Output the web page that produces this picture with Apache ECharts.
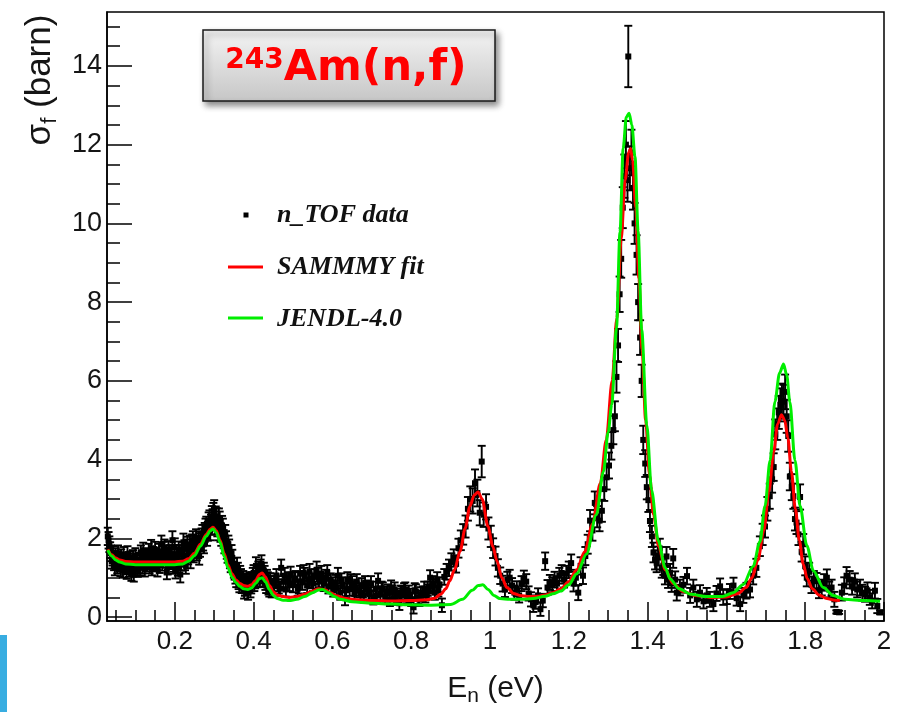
<!DOCTYPE html>
<html>
<head>
<meta charset="utf-8">
<script src="https://cdn.jsdelivr.net/npm/echarts@6/dist/echarts.min.js"></script>
<style>
html, body { margin: 0; padding: 0; background: #fff; }
#chart { width: 904px; height: 712px; }
</style>
</head>
<body>
<div id="chart"></div>
<script>
// 243Am(n,f) fission cross section: n_TOF data, SAMMY fit and JENDL-4.0 evaluation

// Measured points: neutron energy (eV), cross section (barn), uncertainty (barn)
const energy = [
  0.030,0.034,0.038,0.042,0.046,0.050,0.054,0.058,0.062,0.066,0.070,0.074,0.078,0.082,0.086,0.090,0.094,0.098,0.102,0.106,
  0.110,0.114,0.118,0.122,0.126,0.130,0.134,0.138,0.142,0.146,0.150,0.154,0.158,0.162,0.166,0.170,0.174,0.178,0.182,0.186,
  0.190,0.194,0.198,0.202,0.206,0.210,0.214,0.218,0.222,0.226,0.230,0.234,0.238,0.242,0.246,0.250,0.254,0.258,0.262,0.266,
  0.270,0.274,0.278,0.282,0.286,0.290,0.294,0.298,0.302,0.306,0.310,0.314,0.318,0.322,0.326,0.330,0.334,0.338,0.342,0.346,
  0.350,0.354,0.358,0.362,0.366,0.370,0.374,0.378,0.382,0.386,0.390,0.394,0.398,0.402,0.406,0.410,0.414,0.418,0.422,0.426,
  0.430,0.434,0.438,0.442,0.446,0.452,0.458,0.464,0.470,0.476,0.482,0.488,0.494,0.500,0.506,0.512,0.518,0.524,0.530,0.536,
  0.542,0.548,0.554,0.560,0.566,0.572,0.578,0.584,0.590,0.596,0.602,0.608,0.614,0.620,0.626,0.632,0.638,0.644,0.650,0.656,
  0.662,0.668,0.674,0.680,0.686,0.692,0.698,0.704,0.710,0.716,0.722,0.728,0.734,0.740,0.746,0.752,0.758,0.764,0.770,0.776,
  0.782,0.788,0.794,0.800,0.806,0.812,0.818,0.824,0.830,0.836,0.842,0.848,0.854,0.860,0.866,0.872,0.878,0.884,0.890,0.896,
  0.902,0.908,0.914,0.920,0.926,0.932,0.938,0.944,0.950,0.956,0.962,0.968,0.974,0.979,0.984,0.990,0.996,1.002,1.008,1.014,
  1.020,1.026,1.032,1.038,1.044,1.050,1.056,1.062,1.068,1.074,1.080,1.086,1.092,1.098,1.104,1.110,1.116,1.122,1.128,1.134,
  1.140,1.146,1.152,1.158,1.164,1.170,1.176,1.182,1.188,1.194,1.200,1.206,1.212,1.218,1.224,1.230,1.236,1.242,1.248,1.254,
  1.260,1.266,1.272,1.278,1.284,1.290,1.296,1.302,1.308,1.313,1.317,1.321,1.325,1.329,1.333,1.337,1.341,1.345,1.349,1.351,
  1.355,1.359,1.363,1.367,1.372,1.376,1.381,1.385,1.389,1.394,1.398,1.402,1.406,1.411,1.415,1.419,1.423,1.427,1.431,1.436,
  1.440,1.444,1.448,1.452,1.457,1.461,1.465,1.470,1.474,1.482,1.491,1.500,1.508,1.516,1.525,1.533,1.542,1.550,1.558,1.567,
  1.575,1.584,1.592,1.601,1.609,1.618,1.626,1.635,1.643,1.651,1.660,1.668,1.676,1.685,1.692,1.698,1.704,1.710,1.716,1.720,
  1.724,1.729,1.733,1.737,1.741,1.745,1.749,1.753,1.757,1.761,1.766,1.770,1.774,1.778,1.783,1.787,1.791,1.795,1.800,1.804,
  1.810,1.816,1.822,1.829,1.835,1.842,1.848,1.855,1.861,1.867,1.874,1.879,1.886,1.893,1.899,1.905,1.913,1.919,1.926,1.932,
  1.939,1.945,1.952,1.958,1.964,1.970,1.977,1.983,1.990,
  // interleaved bins of the dense low-energy range
  0.032,0.036,0.040,0.044,0.048,0.052,0.056,0.060,0.064,0.068,0.072,0.076,0.080,0.084,0.088,0.092,0.096,0.100,0.104,0.108,
  0.112,0.116,0.120,0.124,0.128,0.132,0.136,0.140,0.144,0.148,0.152,0.156,0.160,0.164,0.168,0.172,0.176,0.180,0.184,0.188,
  0.192,0.196,0.200,0.204,0.208,0.212,0.216,0.220,0.224,0.228,0.232,0.236,0.240,0.244,0.248,0.252,0.256,0.260,0.264,0.268,
  0.272,0.276,0.280,0.284,0.288,0.292,0.296,0.300,0.304,0.308,0.312,0.316,0.320,0.324,0.328,0.332,0.336,0.340,0.344,0.348,
  0.352,0.356,0.360,0.364,0.368,0.372,0.376,0.380,0.384,0.388,0.392,0.396,0.400,0.404,0.408,0.412,0.416,0.420,0.424,0.428,
  0.432,0.436,0.440,0.444,0.455,0.467,0.479,0.491,0.503,0.515,0.527,0.539,0.551,0.563,0.575,0.587,0.599,0.611,0.623,0.635,
  0.647,0.659,0.671,0.683,0.695,0.713,0.725,0.737,0.749,0.761,0.773,0.785,0.797,0.809,0.821,0.833,0.845,0.857,0.869
];
const sigma = [
  2.05,1.85,1.62,1.50,1.38,1.55,1.30,1.45,1.22,1.40,1.58,1.28,1.15,1.42,1.33,1.10,1.50,1.25,1.38,1.20,
  1.45,1.62,1.30,1.48,1.55,1.35,1.65,1.42,1.25,1.58,1.70,1.40,1.52,1.32,1.85,1.60,1.75,1.45,1.28,1.62,
  1.50,1.95,1.35,1.18,1.55,1.70,1.08,1.60,1.90,1.40,1.75,1.55,1.85,1.65,1.95,1.72,2.00,1.80,1.55,1.90,
  2.10,1.85,2.25,2.05,2.40,2.20,2.55,2.62,2.35,2.50,2.20,2.42,2.05,2.25,1.85,1.95,1.60,1.75,1.35,1.50,
  1.20,1.05,1.30,0.90,1.10,0.80,0.98,0.72,0.88,0.62,0.95,0.78,1.05,0.85,1.30,0.95,1.12,1.25,1.05,1.18,
  0.88,1.00,0.75,0.92,0.68,0.85,1.02,0.78,1.25,0.90,0.70,0.95,1.08,0.82,0.98,0.72,1.10,0.88,1.05,0.80,
  1.15,0.92,1.02,1.20,0.95,1.10,0.85,1.00,0.78,0.92,0.70,0.88,1.05,0.62,0.82,0.48,0.95,0.72,0.85,0.58,
  0.90,0.68,0.80,0.55,0.75,0.62,0.85,0.50,0.72,0.92,0.60,0.70,0.52,0.65,0.45,0.62,0.70,0.55,0.35,0.60,
  0.68,0.52,0.62,0.45,0.25,0.65,0.50,0.58,0.60,0.55,0.72,1.00,0.78,0.62,0.95,0.82,0.30,1.02,1.15,1.25,
  1.40,1.50,1.35,1.75,1.95,2.10,2.30,2.75,3.00,2.95,3.40,3.15,2.65,3.95,2.60,2.80,2.25,2.05,1.75,1.55,
  1.25,1.05,0.85,0.70,0.95,1.00,0.80,0.62,0.72,0.55,0.85,0.98,0.90,0.60,0.45,0.30,0.38,0.55,0.20,0.42,
  1.42,0.75,0.88,0.82,0.95,0.85,1.05,1.12,0.95,1.10,1.20,1.37,0.85,1.00,0.62,1.30,1.05,1.55,1.85,2.45,
  2.20,2.90,2.55,2.45,2.70,3.25,3.55,3.85,4.35,4.75,5.10,6.10,6.90,8.20,9.10,10.4,11.2,12.0,11.1,14.24,
  11.4,11.8,10.9,10.0,9.20,8.00,7.10,6.00,4.50,3.90,3.30,2.97,2.44,2.05,1.64,1.45,1.38,1.55,1.74,1.23,
  1.30,1.05,1.54,0.95,1.13,0.85,1.49,0.95,0.62,0.75,0.82,1.04,0.55,0.75,0.45,0.62,0.40,0.55,0.45,0.33,
  0.60,0.78,0.50,0.52,0.65,0.80,0.48,0.33,0.55,0.67,0.70,1.05,1.25,1.80,2.10,2.30,2.75,3.07,3.50,3.81,
  4.64,4.90,5.20,5.39,5.50,5.47,5.72,5.10,4.60,3.57,3.30,3.07,2.49,2.40,2.10,3.05,1.66,1.85,1.30,1.00,
  1.15,0.82,0.95,0.91,0.68,0.75,0.88,1.00,0.70,0.75,0.45,0.13,0.12,0.62,0.80,1.05,0.95,0.78,0.90,0.70,
  0.75,0.62,0.58,0.68,0.50,0.41,0.67,0.28,0.12,
  1.95,1.70,1.42,1.60,1.25,1.48,1.62,1.35,1.52,1.18,1.45,1.35,1.60,1.20,1.48,1.38,1.08,1.55,1.42,1.30,
  1.25,1.50,1.68,1.22,1.42,1.52,1.30,1.75,1.45,1.35,1.55,1.22,1.65,1.48,1.38,1.70,1.55,1.15,1.72,1.42,
  1.60,1.30,1.78,1.45,1.25,1.62,1.38,1.70,1.55,1.30,1.82,1.62,1.45,1.88,1.60,1.85,1.65,1.95,1.75,2.02,
  1.92,2.15,2.30,2.18,2.45,2.35,2.48,2.70,2.55,2.30,2.50,2.15,2.32,1.98,2.10,1.70,1.85,1.45,1.62,1.30,
  1.15,0.95,1.18,0.82,1.02,0.88,0.65,0.92,0.75,0.85,0.68,0.95,1.12,0.92,1.05,1.20,0.98,1.35,0.95,1.10,
  0.80,0.95,0.70,0.85,0.92,0.72,1.05,0.85,0.95,0.78,1.12,0.95,0.85,1.05,0.92,1.12,0.82,0.75,0.92,0.68,
  0.90,0.72,0.62,0.85,0.58,0.55,0.72,0.60,0.75,0.48,0.62,0.70,0.55,0.68,0.45,0.72,0.65,0.85,0.70
];
const sigmaErr = [
  0.22,0.20,0.20,0.19,0.19,0.20,0.19,0.19,0.18,0.19,0.20,0.19,0.18,0.19,0.19,0.18,0.20,0.19,0.19,0.18,
  0.19,0.20,0.19,0.20,0.20,0.19,0.21,0.20,0.19,0.20,0.21,0.20,0.20,0.20,0.22,0.21,0.22,0.20,0.20,0.21,
  0.21,0.23,0.20,0.20,0.21,0.22,0.20,0.21,0.22,0.21,0.22,0.21,0.22,0.22,0.23,0.22,0.23,0.22,0.22,0.23,
  0.24,0.23,0.25,0.24,0.26,0.25,0.27,0.28,0.26,0.27,0.25,0.26,0.24,0.25,0.23,0.23,0.22,0.22,0.21,0.21,
  0.20,0.20,0.21,0.19,0.20,0.19,0.19,0.18,0.19,0.18,0.19,0.18,0.20,0.19,0.22,0.19,0.20,0.21,0.20,0.20,
  0.19,0.20,0.18,0.19,0.18,0.19,0.20,0.18,0.21,0.19,0.18,0.19,0.20,0.19,0.19,0.18,0.20,0.19,0.20,0.19,
  0.20,0.19,0.20,0.21,0.19,0.20,0.19,0.20,0.18,0.19,0.18,0.19,0.20,0.18,0.19,0.18,0.19,0.18,0.19,0.18,
  0.19,0.18,0.19,0.18,0.18,0.18,0.19,0.18,0.18,0.19,0.18,0.18,0.17,0.18,0.17,0.18,0.18,0.17,0.17,0.18,
  0.18,0.17,0.18,0.17,0.16,0.18,0.17,0.18,0.18,0.18,0.18,0.19,0.18,0.18,0.19,0.19,0.17,0.20,0.20,0.21,
  0.22,0.22,0.22,0.24,0.25,0.26,0.28,0.30,0.32,0.32,0.35,0.34,0.32,0.40,0.31,0.32,0.28,0.27,0.25,0.24,
  0.22,0.21,0.20,0.19,0.20,0.20,0.19,0.18,0.19,0.18,0.19,0.20,0.19,0.18,0.18,0.17,0.17,0.18,0.17,0.17,
  0.22,0.19,0.19,0.19,0.20,0.19,0.20,0.20,0.20,0.20,0.21,0.22,0.20,0.20,0.19,0.22,0.21,0.23,0.24,0.27,
  0.26,0.29,0.27,0.27,0.28,0.30,0.31,0.33,0.35,0.36,0.38,0.40,0.42,0.45,0.48,0.52,0.55,0.60,0.55,0.78,
  0.56,0.58,0.55,0.52,0.50,0.46,0.44,0.41,0.36,0.34,0.31,0.30,0.28,0.27,0.25,0.24,0.24,0.24,0.25,0.23,
  0.23,0.22,0.24,0.21,0.22,0.21,0.24,0.21,0.20,0.20,0.20,0.21,0.19,0.20,0.19,0.19,0.18,0.19,0.19,0.18,
  0.19,0.20,0.19,0.19,0.19,0.20,0.19,0.18,0.19,0.20,0.20,0.22,0.23,0.25,0.27,0.28,0.30,0.32,0.34,0.35,
  0.38,0.40,0.42,0.42,0.43,0.43,0.44,0.42,0.40,0.35,0.33,0.32,0.29,0.29,0.27,0.32,0.25,0.26,0.24,0.22,
  0.23,0.21,0.22,0.21,0.20,0.20,0.21,0.21,0.20,0.20,0.19,0.04,0.04,0.20,0.21,0.22,0.22,0.21,0.21,0.20,
  0.20,0.20,0.19,0.20,0.19,0.19,0.20,0.18,0.05,
  0.21,0.20,0.19,0.20,0.19,0.19,0.20,0.19,0.20,0.18,0.19,0.19,0.20,0.18,0.19,0.19,0.18,0.20,0.19,0.19,
  0.19,0.20,0.21,0.19,0.19,0.20,0.19,0.21,0.20,0.19,0.20,0.19,0.21,0.20,0.20,0.21,0.20,0.19,0.21,0.20,
  0.21,0.20,0.22,0.20,0.20,0.21,0.20,0.21,0.21,0.20,0.22,0.21,0.21,0.22,0.21,0.22,0.21,0.23,0.22,0.23,
  0.23,0.24,0.25,0.24,0.26,0.25,0.26,0.27,0.26,0.25,0.26,0.24,0.25,0.23,0.24,0.22,0.22,0.21,0.21,0.20,
  0.20,0.19,0.20,0.19,0.20,0.19,0.18,0.19,0.18,0.19,0.18,0.19,0.20,0.19,0.20,0.21,0.20,0.22,0.19,0.20,
  0.19,0.19,0.18,0.19,0.19,0.18,0.20,0.19,0.19,0.18,0.20,0.19,0.19,0.20,0.19,0.20,0.19,0.18,0.19,0.18,
  0.19,0.18,0.18,0.19,0.18,0.17,0.18,0.18,0.18,0.17,0.18,0.18,0.17,0.18,0.17,0.18,0.18,0.19,0.18
];

// SAMMY resonance fit
const fitEnergy = [
  0.030,0.040,0.050,0.060,0.075,0.100,0.150,0.200,0.220,0.235,0.250,0.265,0.280,0.290,0.297,0.305,0.315,0.325,0.335,0.345,
  0.355,0.365,0.375,0.385,0.395,0.405,0.415,0.422,0.430,0.440,0.450,0.460,0.475,0.490,0.510,0.530,0.550,0.565,0.580,0.595,
  0.610,0.630,0.660,0.700,0.750,0.800,0.840,0.860,0.875,0.888,0.898,0.910,0.924,0.937,0.949,0.960,0.970,0.980,0.995,1.007,
  1.018,1.030,1.043,1.060,1.076,1.100,1.120,1.140,1.160,1.180,1.200,1.220,1.240,1.260,1.280,1.295,1.310,1.322,1.333,1.343,
  1.352,1.357,1.362,1.370,1.378,1.386,1.395,1.405,1.415,1.428,1.445,1.465,1.490,1.520,1.560,1.600,1.630,1.650,1.665,1.680,
  1.695,1.708,1.720,1.730,1.740,1.748,1.756,1.765,1.775,1.785,1.795,1.805,1.818,1.835,1.855,1.875,1.888
];
const fitSigma = [
  1.72,1.58,1.50,1.45,1.41,1.40,1.40,1.40,1.42,1.48,1.62,1.85,2.10,2.24,2.28,2.20,1.95,1.62,1.32,1.10,
  0.95,0.85,0.80,0.78,0.82,0.93,1.08,1.12,1.02,0.80,0.64,0.56,0.52,0.50,0.52,0.58,0.66,0.72,0.70,0.62,
  0.54,0.48,0.44,0.42,0.41,0.42,0.44,0.48,0.58,0.72,0.92,1.20,1.67,2.25,2.81,3.10,3.18,3.00,2.30,1.80,
  1.42,1.00,0.75,0.60,0.55,0.52,0.53,0.56,0.62,0.72,0.90,1.20,1.65,2.35,3.40,4.50,6.00,7.60,9.60,11.1,
  11.8,11.9,11.6,10.4,8.60,6.80,5.00,3.60,2.60,1.80,1.20,0.85,0.65,0.55,0.50,0.51,0.60,0.75,1.00,1.45,
  2.20,3.20,4.20,4.90,5.14,5.00,4.55,3.70,2.75,1.95,1.35,0.98,0.72,0.56,0.47,0.43,0.42
];

// JENDL-4.0 evaluated cross section
const jendlEnergy = [
  0.030,0.040,0.050,0.060,0.075,0.100,0.150,0.200,0.220,0.235,0.250,0.265,0.280,0.290,0.297,0.305,0.315,0.325,0.335,0.345,
  0.355,0.365,0.375,0.385,0.395,0.405,0.415,0.422,0.430,0.440,0.450,0.460,0.475,0.490,0.510,0.530,0.550,0.565,0.575,0.590,
  0.605,0.620,0.650,0.700,0.750,0.800,0.850,0.900,0.930,0.955,0.970,0.982,0.995,1.010,1.025,1.050,1.080,1.110,1.140,1.160,
  1.180,1.200,1.220,1.245,1.270,1.288,1.300,1.309,1.321,1.330,1.338,1.346,1.353,1.360,1.368,1.376,1.385,1.398,1.410,1.427,
  1.445,1.457,1.480,1.510,1.550,1.590,1.617,1.643,1.668,1.685,1.698,1.711,1.723,1.735,1.745,1.753,1.761,1.774,1.787,1.804,
  1.821,1.846,1.871,1.900,1.950,1.990
];
const jendlSigma = [
  1.70,1.55,1.45,1.40,1.35,1.33,1.33,1.33,1.35,1.42,1.56,1.80,2.05,2.19,2.24,2.15,1.90,1.55,1.25,1.02,
  0.88,0.78,0.72,0.70,0.74,0.85,0.98,1.00,0.90,0.70,0.55,0.47,0.43,0.42,0.45,0.52,0.62,0.69,0.70,0.62,
  0.52,0.45,0.39,0.35,0.33,0.31,0.30,0.32,0.45,0.68,0.80,0.82,0.70,0.55,0.47,0.45,0.45,0.47,0.53,0.59,
  0.66,0.82,1.10,1.60,2.60,3.70,4.70,5.40,7.34,9.78,11.9,12.7,12.8,12.5,11.7,9.80,7.30,4.88,3.23,1.94,
  1.25,0.97,0.72,0.58,0.52,0.52,0.62,0.83,1.29,1.91,2.82,3.98,5.47,6.20,6.43,6.15,5.47,3.98,2.82,1.82,
  1.17,0.75,0.55,0.45,0.42,0.40
];

// Axis ticks
const xTickLabels = [0.2, 0.4, 0.6, 0.8, 1, 1.2, 1.4, 1.6, 1.8, 2];
const yTickLabels = [0, 2, 4, 6, 8, 10, 12, 14];

const X_MIN = 0.028, X_MAX = 2;
const Y_MIN = -0.1, Y_MAX = 15.37;

const xMinorTicks = [];
for (let i = 1; i <= 40; i++) xMinorTicks.push(+(i * 0.05).toFixed(2));
const yMinorTicks = [];
for (let i = 0; i <= 30; i++) yMinorTicks.push(i * 0.5);

const pointData = energy.map((e, i) => [e, sigma[i], sigmaErr[i]]);
const fitData = fitEnergy.map((e, i) => [e, fitSigma[i]]);
const jendlData = jendlEnergy.map((e, i) => [e, jendlSigma[i]]);

const AXIS_FONT = 'Liberation Sans, Arial, sans-serif';
const LEGEND_FONT = 'Liberation Serif, Times New Roman, serif';

const chart = echarts.init(document.getElementById('chart'), null, { renderer: 'canvas' });

function errorBarItem(params, api) {
  const x = api.value(0), y = api.value(1), e = api.value(2);
  const p = api.coord([x, y]);
  const hi = api.coord([x, y + e]);
  const lo = api.coord([x, y - e]);
  const cap = 4, m = 3;
  const stroke = { stroke: '#000', lineWidth: 1.9 };
  return {
    type: 'group',
    children: [
      { type: 'line', shape: { x1: p[0], y1: hi[1], x2: p[0], y2: lo[1] }, style: stroke },
      { type: 'line', shape: { x1: p[0] - cap, y1: hi[1], x2: p[0] + cap, y2: hi[1] }, style: stroke },
      { type: 'line', shape: { x1: p[0] - cap, y1: lo[1], x2: p[0] + cap, y2: lo[1] }, style: stroke },
      { type: 'rect', shape: { x: p[0] - m, y: p[1] - m, width: 2 * m, height: 2 * m }, style: { fill: '#000' } }
    ]
  };
}

const option = {
  animation: false,
  backgroundColor: '#fff',
  grid: {
    left: 107, right: 20, top: 12, bottom: 78,
    show: true, borderColor: '#000', borderWidth: 1.5, backgroundColor: 'transparent'
  },
  xAxis: [
    {
      type: 'value', min: X_MIN, max: X_MAX, position: 'bottom',
      axisLine: { show: true, onZero: false, lineStyle: { color: '#000', width: 1.5 } },
      axisTick: { show: true, inside: true, length: 19, customValues: xTickLabels, lineStyle: { color: '#000', width: 1.5 } },
      axisLabel: { customValues: xTickLabels, fontSize: 26, color: '#151515', fontFamily: AXIS_FONT, margin: 8 },
      splitLine: { show: false },
      name: '{a|E}{b|n}{a| (eV)}',
      nameLocation: 'middle', nameGap: 49,
      nameTextStyle: {
        rich: {
          a: { fontSize: 30, fontFamily: AXIS_FONT, color: '#151515', lineHeight: 37 },
          b: { fontSize: 21, fontFamily: AXIS_FONT, color: '#151515', lineHeight: 21, verticalAlign: 'bottom' }
        }
      }
    },
    {
      type: 'value', min: X_MIN, max: X_MAX, position: 'bottom',
      axisLine: { show: false, onZero: false },
      axisTick: { show: true, inside: true, length: 11, customValues: xMinorTicks, lineStyle: { color: '#000', width: 1.5 } },
      axisLabel: { show: false },
      splitLine: { show: false }
    }
  ],
  yAxis: [
    {
      type: 'value', min: Y_MIN, max: Y_MAX, position: 'left',
      axisLine: { show: true, onZero: false, lineStyle: { color: '#000', width: 1.5 } },
      axisTick: { show: true, inside: true, length: 25, customValues: yTickLabels, lineStyle: { color: '#000', width: 1.5 } },
      axisLabel: { customValues: yTickLabels, fontSize: 27, color: '#151515', fontFamily: AXIS_FONT, margin: 5 },
      splitLine: { show: false }
    },
    {
      type: 'value', min: Y_MIN, max: Y_MAX, position: 'left',
      axisLine: { show: false, onZero: false },
      axisTick: { show: true, inside: true, length: 13, customValues: yMinorTicks, lineStyle: { color: '#000', width: 1.5 } },
      axisLabel: { show: false },
      splitLine: { show: false }
    }
  ],
  series: [
    {
      name: 'n_TOF data', type: 'custom', xAxisIndex: 0, yAxisIndex: 0,
      renderItem: errorBarItem, data: pointData, encode: { x: 0, y: 1 }, z: 2
    },
    {
      name: 'SAMMMY fit', type: 'line', xAxisIndex: 0, yAxisIndex: 0, data: fitData,
      showSymbol: false, smooth: 0.3, smoothMonotone: 'x',
      lineStyle: { color: '#ff0000', width: 3 }, z: 3
    },
    {
      name: 'JENDL-4.0', type: 'line', xAxisIndex: 0, yAxisIndex: 0, data: jendlData,
      showSymbol: false, smooth: 0.3, smoothMonotone: 'x',
      lineStyle: { color: '#00ee00', width: 3 }, z: 4
    }
  ],
  graphic: [
    // y axis title
    {
      type: 'text', x: 40, y: 80, rotation: Math.PI / 2,
      style: {
        text: '{a|σ}{b|f}{a| (barn)}',
        align: 'center', verticalAlign: 'middle',
        rich: {
          a: { fontSize: 35, fontFamily: AXIS_FONT, fill: '#151515', lineHeight: 42 },
          b: { fontSize: 22, fontFamily: AXIS_FONT, fill: '#151515', lineHeight: 22, verticalAlign: 'bottom' }
        }
      }
    },
    // reaction label box
    {
      type: 'rect', shape: { x: 203, y: 30, width: 292, height: 71 },
      style: {
        fill: new echarts.graphic.LinearGradient(0, 0, 0, 1, [
          { offset: 0, color: '#f4f4f4' }, { offset: 1, color: '#c6c6c6' }
        ]),
        stroke: '#1a1a1a', lineWidth: 1.5,
        shadowBlur: 6, shadowOffsetX: 3, shadowOffsetY: 4, shadowColor: 'rgba(0,0,0,0.45)'
      },
      z: 10
    },
    {
      type: 'text', x: 346, y: 69, z: 11,
      style: {
        text: '{s|243}{m|Am(n,f)}',
        align: 'center', verticalAlign: 'middle',
        rich: {
          s: { fontSize: 28, fontWeight: 'bold', fontFamily: 'DejaVu Sans, Verdana, sans-serif', fill: '#ff0000', lineHeight: 28, verticalAlign: 'top' },
          m: { fontSize: 43, fontWeight: 'bold', fontFamily: 'DejaVu Sans, Verdana, sans-serif', fill: '#ff0000', lineHeight: 44 }
        }
      }
    },
    // legend
    { type: 'rect', shape: { x: 243.5, y: 212.5, width: 5, height: 5 }, style: { fill: '#000' }, z: 10 },
    { type: 'line', shape: { x1: 228, y1: 267, x2: 263, y2: 267 }, style: { stroke: '#ff0000', lineWidth: 3 }, z: 10 },
    { type: 'line', shape: { x1: 228, y1: 318, x2: 263, y2: 318 }, style: { stroke: '#00ee00', lineWidth: 3 }, z: 10 },
    {
      type: 'text', x: 277, y: 215, z: 10,
      style: { text: 'n_TOF data', font: 'italic bold 26px ' + LEGEND_FONT, fill: '#111', verticalAlign: 'middle' }
    },
    {
      type: 'text', x: 277, y: 267, z: 10,
      style: { text: 'SAMMMY fit', font: 'italic bold 26px ' + LEGEND_FONT, fill: '#111', verticalAlign: 'middle' }
    },
    {
      type: 'text', x: 277, y: 319, z: 10,
      style: { text: 'JENDL-4.0', font: 'italic bold 26px ' + LEGEND_FONT, fill: '#111', verticalAlign: 'middle' }
    },
    // accent bar in the lower-left corner
    { type: 'rect', shape: { x: 0, y: 635, width: 7, height: 77 }, style: { fill: '#38ade1' }, z: 10 }
  ]
};

chart.setOption(option);
</script>
</body>
</html>
